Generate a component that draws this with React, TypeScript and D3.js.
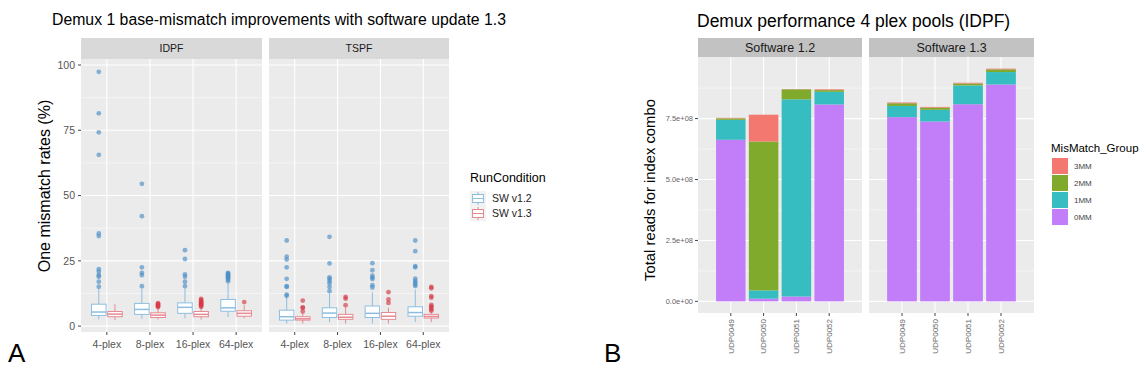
import React from 'react';
import * as d3 from 'd3';

// ---------- Panel A data ----------
const plexCats = ['4-plex', '8-plex', '16-plex', '64-plex'];
const facetNames = ['IDPF', 'TSPF'];
const runConditions = ['SW v1.2', 'SW v1.3'];
// box stats: [lowerWhisker, q1, median, q3, upperWhisker]
const idpfV12Stats = [[2.6, 4.1, 5.4, 8.4, 14.5], [2.8, 4.5, 6.4, 8.7, 14.5], [3.0, 4.9, 7.2, 8.9, 14.5], [3.5, 5.7, 7.0, 10.2, 16.5]];
const idpfV13Stats = [[2.3, 3.6, 4.6, 5.6, 8.4], [2.5, 3.3, 4.2, 5.1, 7.0], [2.5, 3.6, 4.5, 5.6, 7.0], [3.0, 3.8, 4.9, 5.9, 8.0]];
const tspfV12Stats = [[1.0, 2.3, 3.6, 6.1, 11.0], [1.5, 3.3, 5.0, 7.0, 12.5], [1.0, 3.3, 4.9, 7.7, 13.0], [1.5, 3.8, 5.2, 7.4, 14.0]];
const tspfV13Stats = [[1.0, 2.3, 2.8, 3.6, 4.8], [1.0, 2.6, 3.4, 4.5, 7.0], [1.0, 2.6, 3.8, 5.2, 7.0], [1.5, 3.1, 3.7, 4.5, 5.5]];
const idpfV12Outliers = [
  [97.4, 81.5, 74.2, 65.6, 35.5, 34.5, 21.8, 20.8, 19.5, 18.9, 17.0, 15.1],
  [54.5, 42.1, 22.5, 20.4, 19.5, 15.3],
  [29.1, 25.7, 19.8, 18.9, 17.0, 15.3],
  [17.2, 17.8, 18.3, 18.7, 19.0, 19.4, 19.8, 20.1, 20.4],
];
const idpfV13Outliers = [
  [],
  [7.3, 7.6, 7.9, 8.2, 8.5, 8.8],
  [7.4, 7.8, 8.1, 8.4, 8.7, 9.0, 9.3, 9.6, 10.0, 10.4],
  [9.2],
];
const tspfV12Outliers = [
  [32.8, 26.6, 25.5, 22.5, 18.1, 15.3, 15.0, 12.1, 11.6],
  [34.2, 24.0, 18.7, 18.1, 17.3, 16.4, 15.0, 13.4],
  [24.1, 21.4, 19.3, 18.6, 18.0, 15.7, 14.8],
  [32.8, 28.7, 23.0, 22.5, 18.2, 17.3, 16.7, 15.9, 15.4],
];
const tspfV13Outliers = [
  [5.6, 7.0, 7.2, 9.8],
  [11.2, 10.5, 8.0],
  [13.0, 10.2, 8.9],
  [15.0, 14.5, 11.5, 10.9, 8.1, 7.6, 7.0, 6.4, 5.9],
];
const rateTicks = [0, 25, 50, 75, 100];
const rateMinor = [12.5, 37.5, 62.5, 87.5];

// ---------- Panel B data ----------
const softwareNames = ['Software 1.2', 'Software 1.3'];
const udpCats = ['UDP0049', 'UDP0050', 'UDP0051', 'UDP0052'];
const mmGroups = ['0MM', '1MM', '2MM', '3MM']; // stacking order bottom->top
const legendOrder = ['3MM', '2MM', '1MM', '0MM'];
// reads (x1e8)
const sw12_0MM = [6.63, 0.11, 0.20, 8.08];
const sw12_1MM = [0.82, 0.34, 8.09, 0.52];
const sw12_2MM = [0.06, 6.11, 0.41, 0.07];
const sw12_3MM = [0.02, 1.10, 0.01, 0.03];
const sw13_0MM = [7.56, 7.38, 8.09, 8.90];
const sw13_1MM = [0.46, 0.48, 0.77, 0.51];
const sw13_2MM = [0.11, 0.09, 0.08, 0.11];
const sw13_3MM = [0.03, 0.03, 0.03, 0.03];
const readTicks = [0, 2.5e8, 5.0e8, 7.5e8];
const readTickLabels = ['0.0e+00', '2.5e+08', '5.0e+08', '7.5e+08'];
const readMinor = [1.25e8, 3.75e8, 6.25e8, 8.75e8];

const FONT = "'Liberation Sans', Arial, Helvetica, sans-serif";
const condColors = {
  line: ['#8dbee0', '#e58a92'],
  point: ['#4a8fc6', '#d53a47'],
};
const mmColors: Record<string, string> = { '3MM': '#F27870', '2MM': '#7FAA2C', '1MM': '#36BDC1', '0MM': '#C27EF9' };

function PanelA() {
  const stats = [[idpfV12Stats, idpfV13Stats], [tspfV12Stats, tspfV13Stats]];
  const outs = [[idpfV12Outliers, idpfV13Outliers], [tspfV12Outliers, tspfV13Outliers]];
  const panels = [{ x0: 81, x1: 262 }, { x0: 269, x1: 449 }];
  const top = 59, bottom = 332, stripTop = 38;
  const y = d3.scaleLinear().domain([-2.25, 102.3]).range([bottom, top]);
  return (
    <g>
      <text x={52} y={25} fontSize={15.8} fontFamily={FONT} fill="#000">Demux 1 base-mismatch improvements with software update 1.3</text>
      <text transform={`translate(50,186) rotate(-90)`} textAnchor="middle" fontSize={16} fontFamily={FONT} fill="#000">One mismatch rates (%)</text>
      {rateTicks.map(t => (
        <g key={t}>
          <text x={75} y={y(t)} dy="0.35em" textAnchor="end" fontSize={10.5} fontFamily={FONT} fill="#555">{t}</text>
          <line x1={78} x2={81} y1={y(t)} y2={y(t)} stroke="#444" strokeWidth={1} />
        </g>
      ))}
      {panels.map((p, fi) => {
        const x = d3.scalePoint<string>().domain(plexCats).range([p.x0, p.x1]).padding(0.6);
        const step = x.step();
        const boxW = step * 0.75 / 2 * 0.9;
        return (
          <g key={fi}>
            <rect x={p.x0} y={stripTop} width={p.x1 - p.x0} height={top - stripTop} fill="#d9d9d9" />
            <text x={(p.x0 + p.x1) / 2} y={(stripTop + top) / 2} dy="0.35em" textAnchor="middle" fontSize={10.5} fontFamily={FONT} fill="#1a1a1a">{facetNames[fi]}</text>
            <rect x={p.x0} y={top} width={p.x1 - p.x0} height={bottom - top} fill="#ebebeb" />
            {rateMinor.map(t => <line key={t} x1={p.x0} x2={p.x1} y1={y(t)} y2={y(t)} stroke="#fff" strokeWidth={0.5} />)}
            {rateTicks.map(t => <line key={t} x1={p.x0} x2={p.x1} y1={y(t)} y2={y(t)} stroke="#fff" strokeWidth={1.1} />)}
            {plexCats.map(c => <line key={c} x1={x(c)} x2={x(c)} y1={top} y2={bottom} stroke="#fff" strokeWidth={1.1} />)}
            {plexCats.map((c, ci) => (
              <g key={c}>
                <line x1={x(c)} x2={x(c)} y1={bottom} y2={bottom + 3} stroke="#444" />
                <text x={x(c)} y={344} dy="0.35em" textAnchor="middle" fontSize={10.5} fontFamily={FONT} fill="#555">{c}</text>
                {[0, 1].map(k => {
                  const s = stats[fi][k][ci];
                  const cx = (x(c) as number) + (k === 0 ? -1 : 1) * step * 0.75 / 4;
                  return (
                    <g key={k}>
                      <line x1={cx} x2={cx} y1={y(s[0])} y2={y(s[1])} stroke={condColors.line[k]} strokeWidth={1} />
                      <line x1={cx} x2={cx} y1={y(s[3])} y2={y(s[4])} stroke={condColors.line[k]} strokeWidth={1} />
                      <rect x={cx - boxW / 2} y={y(s[3])} width={boxW} height={y(s[1]) - y(s[3])} fill="#fff" stroke={condColors.line[k]} strokeWidth={1} />
                      <line x1={cx - boxW / 2} x2={cx + boxW / 2} y1={y(s[2])} y2={y(s[2])} stroke={condColors.line[k]} strokeWidth={1.5} />
                      {outs[fi][k][ci].map((v, i) => (
                        <circle key={i} cx={cx} cy={y(v)} r={2.4} fill={condColors.point[k]} fillOpacity={0.65} />
                      ))}
                    </g>
                  );
                })}
              </g>
            ))}
          </g>
        );
      })}
      {/* legend */}
      <text x={470} y={178} dy="0.35em" fontSize={12.5} fontFamily={FONT} fill="#000">RunCondition</text>
      {runConditions.map((rc, i) => {
        const ky = 191 + i * 15;
        return (
          <g key={rc}>
            <rect x={470} y={ky} width={16} height={15} fill="#f2f2f2" />
            <line x1={478} x2={478} y1={ky + 1} y2={ky + 14} stroke={condColors.line[i]} />
            <rect x={472.5} y={ky + 3.5} width={11} height={8} fill="#fff" stroke={condColors.line[i]} />
            <line x1={472.5} x2={483.5} y1={ky + 7.5} y2={ky + 7.5} stroke={condColors.line[i]} />
            <text x={492} y={ky + 7.5} dy="0.35em" fontSize={10.5} fontFamily={FONT} fill="#222">{rc}</text>
          </g>
        );
      })}
      <text x={8} y={362} fontSize={26} fontFamily={FONT} fill="#000">A</text>
    </g>
  );
}

function PanelB() {
  const data = [
    [sw12_0MM, sw12_1MM, sw12_2MM, sw12_3MM],
    [sw13_0MM, sw13_1MM, sw13_2MM, sw13_3MM],
  ];
  const panels = [{ x0: 698, x1: 862 }, { x0: 869, x1: 1034 }];
  const top = 57, bottom = 313, stripTop = 38;
  const totals = data.flatMap(d => udpCats.map((_, i) => d3.sum(d, s => s[i]) * 1e8));
  const maxT = d3.max(totals) as number;
  const y = d3.scaleLinear().domain([-0.05 * maxT, maxT * 1.05]).range([bottom, top]);
  return (
    <g>
      <text x={697} y={27} fontSize={17.5} fontFamily={FONT} fill="#000">Demux performance 4 plex pools (IDPF)</text>
      <text transform={`translate(655,190) rotate(-90)`} textAnchor="middle" fontSize={14.8} fontFamily={FONT} fill="#000">Total reads for index combo</text>
      {readTicks.map((t, i) => (
        <g key={t}>
          <text x={693} y={y(t)} dy="0.35em" textAnchor="end" fontSize={7.5} fontFamily={FONT} fill="#666">{readTickLabels[i]}</text>
          <line x1={695} x2={698} y1={y(t)} y2={y(t)} stroke="#444" />
        </g>
      ))}
      {panels.map((p, fi) => {
        const x = d3.scaleBand<string>().domain(udpCats).range([p.x0, p.x1]).paddingInner(0.1).paddingOuter(0.55);
        const stack = d3.stack<number>().keys(mmGroups.map((_, i) => String(i)))
          .value((i, key) => data[fi][+key][i] * 1e8)(udpCats.map((_, i) => i) as any);
        return (
          <g key={fi}>
            <rect x={p.x0} y={stripTop} width={p.x1 - p.x0} height={top - stripTop} fill="#c2c2c2" />
            <text x={(p.x0 + p.x1) / 2} y={(stripTop + top) / 2} dy="0.35em" textAnchor="middle" fontSize={12.5} fontFamily={FONT} fill="#1a1a1a">{softwareNames[fi]}</text>
            <rect x={p.x0} y={top} width={p.x1 - p.x0} height={bottom - top} fill="#ebebeb" />
            {readMinor.map(t => <line key={t} x1={p.x0} x2={p.x1} y1={y(t)} y2={y(t)} stroke="#fff" strokeWidth={0.5} />)}
            {readTicks.map(t => <line key={t} x1={p.x0} x2={p.x1} y1={y(t)} y2={y(t)} stroke="#fff" strokeWidth={1.1} />)}
            {udpCats.map(c => {
              const cx = (x(c) as number) + x.bandwidth() / 2;
              return <line key={c} x1={cx} x2={cx} y1={top} y2={bottom} stroke="#fff" strokeWidth={1.1} />;
            })}
            {stack.map((layer, li) => layer.map((d, i) => (
              <rect key={`${li}-${i}`} x={x(udpCats[i])} width={x.bandwidth()} y={y(d[1])} height={Math.max(0, y(d[0]) - y(d[1]))} fill={mmColors[mmGroups[li]]} />
            )))}
            {udpCats.map(c => {
              const cx = (x(c) as number) + x.bandwidth() / 2;
              return (
                <g key={c}>
                  <line x1={cx} x2={cx} y1={bottom} y2={bottom + 3} stroke="#444" />
                  <text transform={`translate(${cx},${bottom + 6}) rotate(-90)`} dy="0.35em" textAnchor="end" fontSize={8} fontFamily={FONT} fill="#666">{c}</text>
                </g>
              );
            })}
          </g>
        );
      })}
      <text x={1051} y={148} dy="0.35em" fontSize={11.5} fontFamily={FONT} fill="#000">MisMatch_Group</text>
      {legendOrder.map((g, i) => {
        const ky = 158 + i * 17;
        return (
          <g key={g}>
            <rect x={1052} y={ky} width={16} height={16} fill={mmColors[g]} />
            <text x={1074} y={ky + 8} dy="0.35em" fontSize={8} fontFamily={FONT} fill="#444">{g}</text>
          </g>
        );
      })}
      <text x={604} y={362} fontSize={26} fontFamily={FONT} fill="#000">B</text>
    </g>
  );
}

export default function App() {
  return (
    <svg width={1145} height={369} style={{ display: 'block', position: 'absolute', left: 0, top: 0, background: '#fff' }}>
      <rect width={1145} height={369} fill="#fff" />
      <PanelA />
      <PanelB />
    </svg>
  );
}
